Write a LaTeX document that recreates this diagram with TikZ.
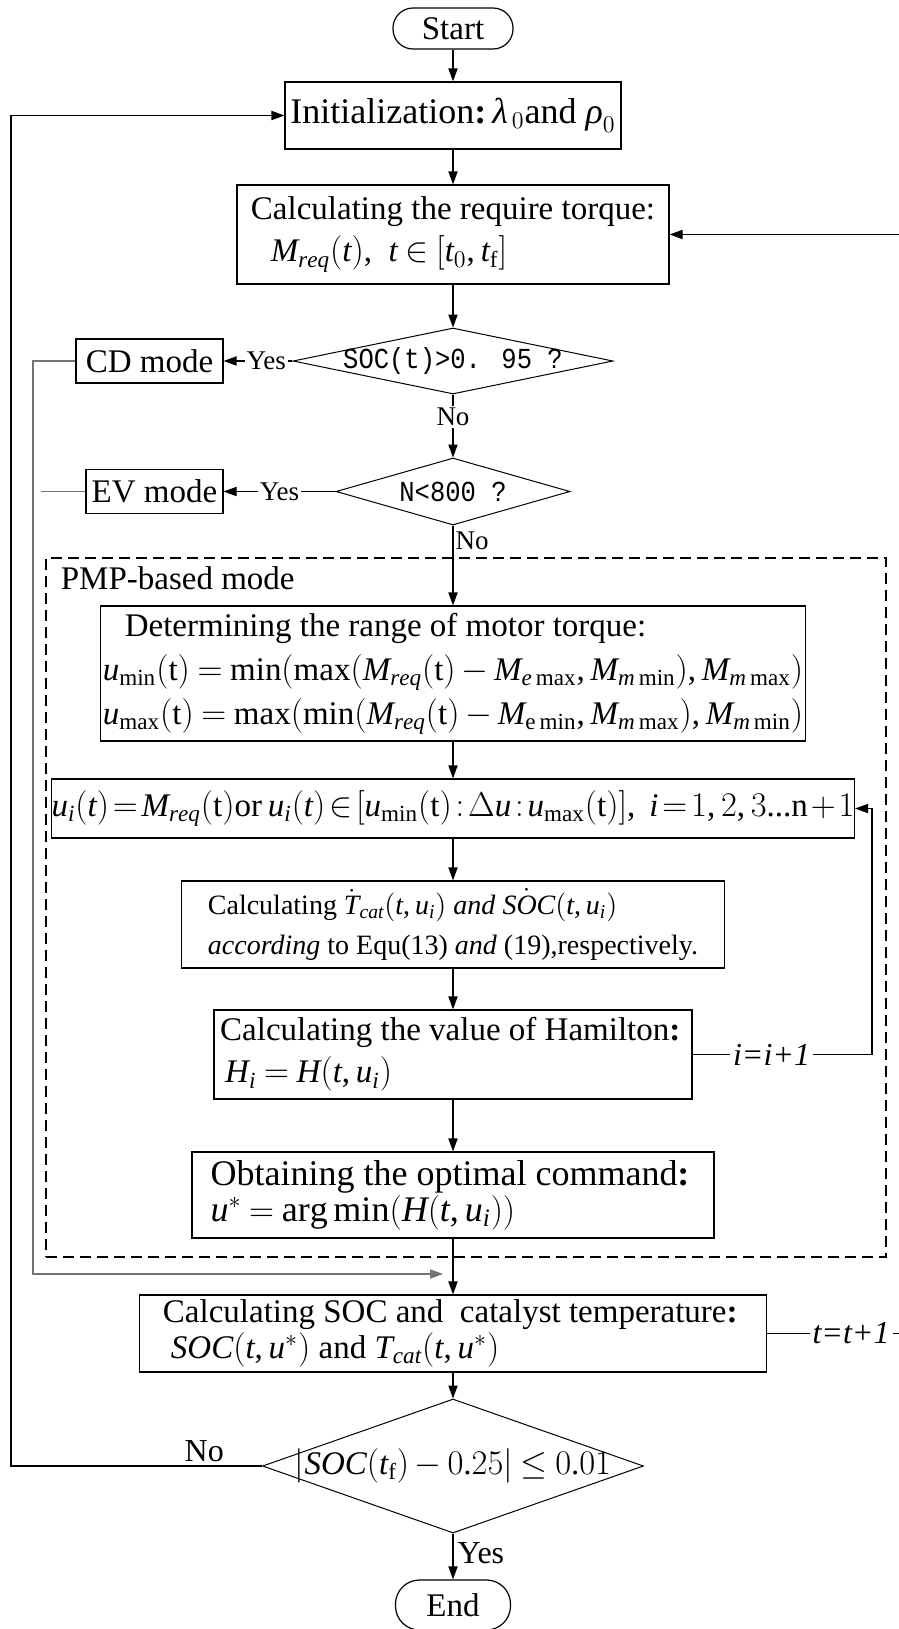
\documentclass[tikz,border=0pt]{standalone}
\usepackage{amsmath}
\usepackage{fontspec}
\setmainfont{Liberation Serif}
\newfontfamily\songfont[FakeStretch=0.88]{Liberation Mono}
\usetikzlibrary{arrows.meta,shapes.geometric}

% Times-like letters and digits in formulas
\DeclareSymbolFont{timesit}{TU}{\rmdefault}{m}{it}
\DeclareSymbolFont{timesrm}{TU}{\rmdefault}{m}{n}
\makeatletter
\def\timesletter#1{\DeclareMathSymbol{#1}{\mathalpha}{timesit}{`#1}}
\def\timesdigit#1{\DeclareMathSymbol{#1}{\mathalpha}{timesrm}{`#1}}
\@tfor\lettr:=abcdefghijklmnopqrstuvwxyzABCDEFGHIJKLMNOPQRSTUVWXYZ\do{\expandafter\timesletter\lettr}
\@tfor\lettr:=0123456789\do{\expandafter\timesdigit\lettr}
\makeatother
\DeclareMathSymbol{(}{\mathopen}{timesrm}{`(}
\DeclareMathSymbol{)}{\mathclose}{timesrm}{`)}
\DeclareMathSymbol{[}{\mathopen}{timesrm}{`[}
\DeclareMathSymbol{]}{\mathclose}{timesrm}{`]}
\DeclareMathSymbol{,}{\mathpunct}{timesrm}{`,}
\DeclareMathSymbol{.}{\mathord}{timesrm}{`.}
\DeclareMathSymbol{=}{\mathrel}{timesrm}{`=}
\DeclareMathSymbol{+}{\mathbin}{timesrm}{`+}
\thickmuskip=4mu plus 2mu
\medmuskip=3mu plus 1mu

\newcommand{\fwcolon}{\textbf{:}\,}
\newcommand{\tightmath}{\thickmuskip=2mu\medmuskip=1.5mu}

\begin{document}
\begin{tikzpicture}[x=0.5pt,y=0.5pt,line width=0.6pt,
    >={Triangle[length=6.5pt,width=4.6pt]},
    font=\fontsize{16.5}{21}\selectfont,
    term/.style={draw,rounded corners=10pt,inner sep=0pt,minimum height=20.5pt},
    box/.style={draw,align=left,inner xsep=1pt,inner ysep=0pt},
    decision/.style={draw,diamond,inner sep=0pt,line width=0.5pt},
    mode/.style={draw,inner sep=0pt,minimum height=22pt},
    lbl/.style={fill=white,inner sep=1pt,font=\fontsize{13.5}{15}\selectfont},
    answer/.style={inner sep=2pt,font=\fontsize{16}{18}\selectfont},
    countlbl/.style={fill=white,inner sep=1.5pt,font=\fontsize{16}{18}\selectfont\itshape},
    qtext/.style={font=\fontsize{14.5}{16}\songfont}]
  \useasboundingbox (0,0) rectangle (899,-1629);

  \node[draw,dashed,dash pattern=on 5.5pt off 3pt,line width=0.75pt,
        minimum width=420pt,minimum height=349.5pt] (pmp) at (466,-907.5) {};
  \node[anchor=west,inner sep=0pt] (pmplabel) at ([xshift=7.5pt,yshift=-10.5pt]pmp.north west) {PMP-based mode};

  \node[term,minimum width=60pt] (start) at (453,-28.5) {Start};
  \node[box,minimum width=168pt,minimum height=33.5pt,font=\fontsize{18}{21}\selectfont]
    (init) [below of=start,node distance=43.5pt] {Initialization\fwcolon$\textit{λ}_{\,0}$and $\textit{ρ}_0$};
  \node[box,minimum width=216pt,minimum height=49.5pt]
    (torque) [below of=init,node distance=59.5pt]
    {Calculating the require torque:\\\hspace*{10pt}$M_{req}(t)$,\ \ $t\in[t_0,t_{\mathrm{f}}]$};
  \node[decision,minimum width=160pt,minimum height=33pt,
        label={[qtext]center:SOC(t)>0. 95 ?}]
    (dsoc) [below of=torque,node distance=63.25pt] {};
  \node[mode,minimum width=73.5pt] (cd) [left of=dsoc,node distance=151.75pt] {CD mode};
  \node[decision,minimum width=117pt,minimum height=33.5pt,
        label={[qtext]center:N<800 ?}]
    (dn) [below of=dsoc,node distance=65.25pt] {};
  \node[mode,minimum width=68.5pt] (ev) [left of=dn,node distance=149.25pt] {EV mode};

  \node[box,minimum width=341.5pt,minimum height=67.5pt,font=\fontsize{16.5}{22}\selectfont]
    (torquerange) [below of=dn,node distance=91pt]
    {\hspace*{11pt}Determining the range of motor torque:\\
     $u_{\min}(\mathrm{t})=\min(\max(M_{req}(\mathrm{t})-M_{e\max},M_{m\min}),M_{m\max})$\\
     $u_{\max}(\mathrm{t})=\max(\min(M_{req}(\mathrm{t})-M_{\mathrm{e}\min},M_{m\max}),M_{m\min})$};
  \node[box,minimum width=392pt,minimum height=29.5pt,inner xsep=0pt,font=\fontsize{16.5}{18}\selectfont]
    (ui) [below of=torquerange,node distance=67.5pt]
    {$\tightmath u_i(t)=M_{req}(\mathrm{t})\mathrm{or}\,u_i(t)\in[u_{\min}(\mathrm{t}):\Delta u:u_{\max}(\mathrm{t})],\ i=1,2,3...\mathrm{n}+1$};
  \node[box,minimum width=271.5pt,minimum height=43.5pt,font=\fontsize{14}{20}\selectfont]
    (tcat) [below of=ui,node distance=58pt]
    {Calculating $\dot{T}_{cat}(t,u_i)$ \textit{and} $S\dot{O}C(t,u_i)$\\
     \textit{according} to Equ(13) \textit{and} (19),respectively.};
  \node[box,minimum width=239pt,minimum height=44.5pt]
    (ham) [below of=tcat,node distance=65pt]
    {Calculating the value of Hamilton\fwcolon\\\hspace*{2.5pt}$H_i=H(t,u_i)$};
  \node[box,minimum width=261pt,minimum height=43pt,font=\fontsize{18}{18}\selectfont]
    (opt) [below of=ham,node distance=70.25pt]
    {Obtaining the optimal command\fwcolon\\$u^*=\arg\min(H(t,u_i))$};
  \node[box,minimum width=313.5pt,minimum height=38.5pt,font=\fontsize{16.5}{18}\selectfont]
    (soc) [below of=opt,node distance=69.25pt]
    {Calculating SOC and\ \ catalyst temperature\fwcolon\\\hspace*{4pt}$SOC(t,u^*)$ and $T_{cat}(t,u^*)$};
  \node[decision,minimum width=190.5pt,minimum height=67pt,
        label={center:$\left|SOC(t_{\mathrm{f}})-0.25\right|\le 0.01$}]
    (dfin) [below of=soc,node distance=66.25pt] {};
  \node[term,minimum width=57.5pt,minimum height=25pt,rounded corners=12pt]
    (end) [below of=dfin,node distance=69.5pt] {End};

  \coordinate (cdbus) at (33,-1274);
  \coordinate (cdend) at (443,-1274);
  \coordinate (evend) at (41,-491.5);
  \coordinate (iloop) at (872,-1054.5);
  \coordinate (tloop) at (907,-1333.5);
  \coordinate (noloop) at (11,-1466);

  \path[->]
    (start) edge (init)
    (init) edge (torque)
    (torque) edge (dsoc)
    (dsoc) edge node[lbl,pos=0.36] {No} (dn)
    (dsoc) edge node[lbl,pos=0.38] {Yes} (cd)
    (dn) edge node[lbl,pos=0.5] {Yes} (ev)
    (dn) edge node[right,pos=0.19,lbl,fill=none] {No} (torquerange)
    (torquerange) edge (ui)
    (ui) edge (tcat)
    (tcat) edge (ham)
    (ham) edge (opt)
    (opt) edge (soc)
    (soc) edge (dfin)
    (dfin) edge node[right,answer,pos=0.43] {Yes} (end);

  \draw[->,black!55] (cd.west) -| (cdbus) -- (cdend);
  \draw[black!55] (ev.west) -- (evend);
  \draw[->] (ham.east) -- node[countlbl,pos=0.44] {i=i+1} (iloop) |- (ui.east);
  \draw[->] (soc.east) -- node[countlbl,pos=0.6] {t=t+1} (tloop) |- (torque.east);
  \draw[->] (dfin.west) -- node[above,answer,pos=0.23] {No} (noloop) |- (init.west);
\end{tikzpicture}
\end{document}
